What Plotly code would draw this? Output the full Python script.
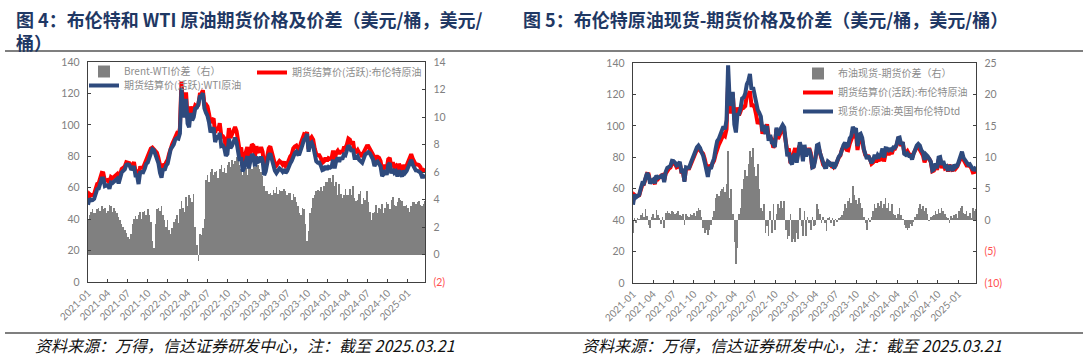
import pandas as pd
import plotly.graph_objects as go

# ---------------- data (weekly, Fridays 2021-01-01 .. 2025-03-21) ----------------
dates = pd.date_range("2021-01-01", "2025-03-21", freq="W-FRI")

brent_futures = [
    # 2021
    51.8, 56.0, 55.1, 55.4, 55.9, 59.3, 62.4, 62.9, 66.1, 69.4, 69.2, 64.5, 64.6,
    64.9, 63.0, 66.8, 66.1, 67.3, 68.3, 68.7, 65.4, 69.6, 71.9, 72.7, 73.5, 76.2,
    76.2, 75.6, 73.6, 74.1, 76.3, 70.7, 70.6, 65.2, 72.7, 72.6, 72.9, 75.3, 78.1,
    79.3, 82.4, 84.9, 85.5, 84.4, 82.7, 82.2, 78.9, 72.7, 69.9, 75.2, 73.5, 76.1, 77.8,
    # 2022
    81.8, 86.1, 87.9, 90.0, 93.3, 94.4, 93.5, 97.9, 127.5, 112.7, 107.9, 120.7,
    104.4, 102.8, 111.7, 106.7, 109.3, 112.4, 111.6, 112.6, 119.4, 119.7, 122.0, 113.1, 113.1,
    111.6, 107.0, 101.2, 103.2, 104.0, 95.0, 98.2, 96.7, 101.0, 93.0, 92.8, 91.4, 86.2, 88.0,
    97.9, 91.6, 93.5, 95.8, 98.6, 96.0, 87.6, 83.6, 85.6, 76.1, 79.0, 83.9, 85.9,
    # 2023
    78.6, 85.3, 87.6, 86.7, 79.9, 86.4, 83.0, 83.2, 85.8, 82.8, 73.0, 75.0, 79.8,
    85.1, 86.3, 81.7, 79.5, 75.3, 74.2, 75.6, 77.0, 76.1, 74.8, 76.6, 73.9, 74.9,
    78.5, 79.9, 81.1, 85.0, 86.2, 86.8, 84.8, 84.5, 88.6, 90.7, 93.9, 93.3, 95.3,
    84.6, 90.9, 92.2, 90.5, 84.9, 81.4, 80.6, 80.6, 78.9, 75.8, 76.6, 79.1, 77.0,
    # 2024
    78.8, 78.3, 78.6, 83.6, 77.3, 82.2, 83.5, 81.6, 83.6, 82.1, 85.3, 85.4, 87.5,
    91.2, 90.5, 87.3, 89.5, 83.0, 82.8, 84.0, 82.1, 81.6, 79.6, 82.6, 85.2, 86.4,
    86.5, 85.0, 82.6, 81.1, 76.8, 79.7, 79.7, 79.0, 76.9, 71.1, 71.6, 74.5, 72.0,
    78.1, 79.0, 73.1, 76.1, 73.1, 73.9, 71.0, 75.2, 72.9, 71.1, 74.5, 72.9, 74.2,
    # 2025
    76.5, 79.8, 81.3, 78.5, 76.8, 74.7, 74.7, 74.4, 73.2, 70.4, 70.6, 72.2,
]

wti_futures = [
    # 2021
    49.2, 53.1, 52.0, 52.1, 52.9, 56.3, 59.1, 59.5, 62.9, 65.9, 65.9, 61.1, 61.6,
    61.7, 59.4, 63.3, 63.0, 63.9, 65.1, 65.7, 62.7, 67.1, 69.7, 70.7, 71.7, 74.6,
    74.9, 74.5, 72.1, 71.9, 73.7, 67.9, 68.0, 62.3, 69.6, 70.0, 69.8, 72.1, 75.2,
    76.0, 79.5, 82.5, 84.5, 83.9, 80.5, 78.9, 75.5, 69.5, 66.4, 72.3, 71.0, 74.1, 75.3,
    # 2022
    80.0, 84.6, 86.0, 87.6, 90.7, 91.5, 91.2, 94.6, 123.6, 109.3, 104.8, 116.5,
    100.9, 98.5, 107.6, 102.9, 104.9, 110.4, 110.9, 113.1, 117.9, 118.3, 120.1, 110.5, 107.7,
    105.8, 101.7, 95.2, 97.0, 98.2, 89.0, 92.1, 91.1, 94.8, 86.5, 86.8, 85.1, 80.3, 81.5,
    91.2, 85.2, 86.6, 89.2, 91.8, 88.9, 80.6, 77.1, 79.4, 70.3, 73.0, 77.6, 80.1,
    # 2023
    72.3, 78.8, 81.4, 80.1, 73.5, 79.8, 76.5, 77.0, 79.8, 77.1, 68.0, 70.4, 75.2,
    80.7, 81.8, 77.4, 74.8, 70.8, 69.3, 71.2, 72.3, 71.5, 70.2, 71.8, 69.3, 70.6,
    74.0, 75.4, 77.1, 80.6, 82.0, 83.0, 81.3, 81.5, 85.7, 87.3, 90.6, 91.1, 94.3,
    82.9, 87.9, 88.8, 86.4, 80.6, 76.8, 75.9, 76.0, 74.0, 71.2, 71.6, 73.8, 71.7,
    # 2024
    73.2, 72.7, 73.3, 77.8, 72.3, 76.9, 79.2, 76.5, 79.2, 78.0, 81.0, 80.6, 83.2,
    86.9, 85.7, 83.0, 84.5, 78.9, 78.9, 80.0, 77.7, 77.0, 75.9, 78.5, 81.2, 81.8,
    82.7, 81.9, 80.1, 78.1, 73.7, 76.1, 76.7, 75.6, 73.6, 67.4, 68.6, 71.1, 68.2,
    74.4, 75.7, 69.1, 71.9, 69.5, 70.4, 67.2, 71.1, 68.9, 67.2, 71.0, 69.4, 70.6,
    # 2025
    73.1, 76.7, 77.8, 74.7, 73.0, 71.0, 70.9, 70.5, 69.6, 66.9, 66.9, 68.3,
]

brent_wti_spread = [
    # 2021
    2.6, 2.9, 3.1, 3.3, 3.0, 3.0, 3.3, 3.4, 3.2, 3.5, 3.3, 3.4, 3.0,
    3.2, 3.6, 3.5, 3.1, 3.4, 3.2, 3.0, 2.7, 2.5, 2.2, 2.0, 1.8, 1.6,
    1.3, 1.1, 1.5, 2.2, 2.6, 2.8, 2.6, 2.9, 3.1, 2.6, 3.1, 3.2, 2.9,
    3.3, 2.9, 2.4, 1.0, 0.5, 2.2, 3.3, 3.4, 3.2, 3.5, 2.9, 2.5, 2.0, 2.5,
    # 2022
    1.8, 1.5, 1.9, 2.4, 2.6, 2.9, 2.3, 3.3, 3.9, 3.4, 3.1, 4.2,
    3.5, 4.3, 4.1, 3.8, 4.4, 2.0, 0.7, -0.5, 1.5, 1.4, 1.9, 2.6, 5.4,
    5.8, 5.3, 6.0, 6.2, 5.8, 6.0, 6.1, 5.6, 6.2, 6.5, 6.0, 6.3, 5.9, 6.5,
    6.7, 6.4, 6.9, 6.6, 6.8, 7.1, 7.0, 6.5, 6.2, 5.8, 6.0, 6.3, 5.8,
    # 2023
    6.3, 6.5, 6.2, 6.6, 6.4, 6.6, 6.5, 6.2, 6.0, 5.7, 5.0, 4.6, 4.6,
    4.4, 4.5, 4.3, 4.7, 4.5, 4.9, 4.4, 4.7, 4.6, 4.6, 4.8, 4.6, 4.3,
    4.5, 4.5, 4.0, 4.4, 4.2, 3.8, 3.5, 3.0, 2.9, 3.4, 3.3, 2.2, 1.0,
    1.7, 3.0, 3.4, 4.1, 4.3, 4.6, 4.7, 4.6, 4.9, 4.6, 5.0, 5.3, 5.3,
    # 2024
    5.6, 5.6, 5.3, 5.8, 5.0, 5.3, 4.3, 5.1, 4.4, 4.1, 4.3, 4.8, 4.3,
    4.3, 4.8, 4.3, 5.0, 4.1, 3.9, 4.0, 4.4, 4.6, 3.7, 4.1, 4.0, 4.6,
    3.8, 3.1, 2.5, 3.0, 3.1, 3.6, 3.0, 3.4, 3.3, 3.7, 3.0, 3.4, 3.8,
    3.7, 3.3, 4.0, 4.2, 3.6, 3.5, 3.8, 4.1, 4.0, 3.9, 3.5, 3.5, 3.6,
    # 2025
    3.4, 3.1, 3.5, 3.8, 3.8, 3.7, 3.8, 3.9, 3.6, 3.5, 3.7, 3.9,
]

dated_brent = [
    # 2021
    49.8, 56.3, 54.6, 55.8, 56.1, 60.1, 63.6, 63.4, 67.9, 70.0, 68.4, 63.3, 65.1,
    65.9, 63.4, 68.4, 66.9, 67.6, 67.7, 69.2, 64.2, 70.8, 73.3, 73.9, 74.5, 77.7,
    77.5, 76.5, 74.8, 75.5, 77.1, 71.3, 71.6, 64.4, 73.6, 73.3, 73.4, 76.3, 78.9,
    80.5, 83.0, 86.3, 87.5, 86.0, 83.2, 81.0, 76.9, 71.1, 67.5, 73.7, 72.7, 76.6, 79.3,
    # 2022
    85.4, 90.3, 91.7, 94.6, 98.3, 99.6, 97.9, 103.7, 138.5, 116.2, 112.9, 121.7,
    100.9, 95.8, 107.2, 107.7, 111.3, 117.4, 118.1, 120.6, 126.4, 128.7, 133.0, 123.1, 124.6,
    120.1, 114.0, 110.2, 108.2, 106.0, 96.5, 100.7, 94.7, 100.0, 90.5, 94.3, 89.4, 88.7, 86.5,
    98.9, 94.1, 95.5, 98.8, 100.6, 99.0, 86.1, 80.6, 83.1, 77.1, 75.5, 80.9, 82.4,
    # 2023
    76.6, 82.3, 89.6, 85.7, 77.4, 87.9, 80.5, 83.7, 85.3, 81.3, 73.5, 74.0, 79.0,
    87.6, 88.1, 82.7, 79.0, 75.8, 73.7, 73.8, 77.4, 76.6, 74.3, 76.9, 72.9, 75.1,
    78.2, 80.3, 81.6, 85.8, 87.7, 89.3, 86.8, 87.5, 92.1, 93.5, 99.4, 97.3, 98.5,
    87.1, 94.4, 95.0, 92.5, 85.4, 80.9, 79.0, 80.9, 78.6, 76.3, 78.1, 81.6, 79.0,
    # 2024
    81.6, 80.5, 81.6, 85.6, 79.8, 85.7, 85.5, 84.4, 85.1, 84.6, 86.3, 86.2, 87.8,
    92.2, 92.5, 88.1, 89.7, 82.2, 81.5, 82.5, 80.9, 81.0, 78.6, 82.3, 85.7, 87.4,
    88.5, 87.5, 84.4, 83.3, 78.3, 81.7, 80.7, 78.8, 77.4, 71.7, 72.4, 76.0, 73.0,
    79.9, 80.2, 75.1, 77.6, 74.1, 74.4, 71.3, 74.8, 73.5, 71.4, 75.3, 73.9, 74.6,
    # 2025
    78.0, 81.8, 83.6, 79.7, 77.8, 76.2, 75.3, 75.6, 73.6, 72.4, 72.1, 74.0,
]

dated_futures_spread = [
    # 2021
    -2.0, 0.3, -0.5, 0.4, 0.2, 0.8, 1.2, 0.5, 1.8, 0.6, -0.8, -1.2, 0.5,
    1.0, 0.4, 1.6, 0.8, 0.3, -0.6, 0.5, -1.2, 1.2, 1.4, 1.2, 1.0, 1.5,
    1.3, 0.9, 1.2, 1.4, 0.8, 0.6, 1.0, -0.8, 0.9, 0.7, 0.5, 1.0, 0.8,
    1.2, 0.6, 1.4, 2.0, 1.6, 0.5, -1.2, -2.0, -1.6, -2.4, -1.5, -0.8, 0.5, 1.5,
    # 2022
    3.6, 4.2, 3.8, 4.6, 5.0, 5.2, 4.4, 5.8, 11.0, 3.5, 5.0, 1.0,
    -3.5, -7.0, -4.5, 1.0, 2.0, 5.0, 6.5, 8.0, 7.0, 9.0, 11.0, 10.0, 11.5,
    8.5, 7.0, 9.0, 5.0, 2.0, 1.5, 2.5, -2.0, -1.0, -2.5, 1.5, -2.0, 2.5, -1.5,
    1.0, 2.5, 2.0, 3.0, 2.0, 3.0, -1.5, -3.0, -2.5, 1.0, -3.5, -3.0, -3.5,
    # 2023
    -2.0, -3.0, 2.0, -1.0, -2.5, 1.5, -2.5, 0.5, -0.5, -1.5, 0.5, -1.0, -0.8,
    2.5, 1.8, 1.0, -0.5, 0.5, -0.5, -1.8, 0.4, 0.5, -0.5, 0.3, -1.0, 0.2,
    -0.3, 0.4, 0.5, 0.8, 1.5, 2.5, 2.0, 3.0, 3.5, 2.8, 5.5, 4.0, 3.2,
    2.5, 3.5, 2.8, 2.0, 0.5, -0.5, -1.6, 0.3, -0.3, 0.5, 1.5, 2.5, 2.0,
    # 2024
    2.8, 2.2, 3.0, 2.0, 2.5, 3.5, 2.0, 2.8, 1.5, 2.5, 1.0, 0.8, 0.3,
    1.0, 2.0, 0.8, 0.2, -0.8, -1.3, -1.5, -1.2, -0.6, -1.0, -0.3, 0.5, 1.0,
    2.0, 2.5, 1.8, 2.2, 1.5, 2.0, 1.0, -0.2, 0.5, 0.6, 0.8, 1.5, 1.0,
    1.8, 1.2, 2.0, 1.5, 1.0, 0.5, 0.3, -0.4, 0.6, 0.3, 0.8, 1.0, 0.4,
    # 2025
    1.5, 2.0, 2.3, 1.2, 1.0, 1.5, 0.6, 1.2, 0.4, 2.0, 1.5, 1.8,
]

for s in (brent_futures, wti_futures, brent_wti_spread, dated_brent, dated_futures_spread):
    assert len(s) == len(dates), (len(s), len(dates))

price_ticks = [0, 20, 40, 60, 80, 100, 120, 140]
left_spread_ticks = [-2, 0, 2, 4, 6, 8, 10, 12, 14]
right_spread_ticks = [-10, -5, 0, 5, 10, 15, 20, 25]

NEG = "#ff5050"


def spread_text(v):
    if v < 0:
        return f'<span style="color:{NEG}">({abs(v)})</span>'
    return str(v)


# ---------------- figure ----------------
W, H = 1088, 358


def px(x):
    return x / W


def py(y):
    return 1 - y / H


GRAY_TXT = "#808080"
AX = "#404040"
tickfont = dict(family="Lato, Liberation Sans, sans-serif", size=10.5, color=GRAY_TXT)
legfont = dict(family="Noto Sans CJK SC, sans-serif", size=10, color="#8c8c8c")
RED = "#ff0000"
BLUE = "#2e4a7d"
BARC = "#808080"

fig = go.Figure()

# left chart
fig.add_trace(go.Bar(x=dates, y=brent_wti_spread, xaxis="x", yaxis="y",
                     marker=dict(color=BARC, line=dict(width=0)),
                     name="Brent-WTI价差（右）", legend="legend"))
fig.add_trace(go.Scatter(x=dates, y=brent_futures, xaxis="x", yaxis="y2", mode="lines",
                         line=dict(color=RED, width=4),
                         name="期货结算价(活跃):布伦特原油", legend="legend2"))
fig.add_trace(go.Scatter(x=dates, y=wti_futures, xaxis="x", yaxis="y2", mode="lines",
                         line=dict(color=BLUE, width=4),
                         name="期货结算价(活跃):WTI原油", legend="legend3"))

# right chart
fig.add_trace(go.Bar(x=dates, y=dated_futures_spread, xaxis="x2", yaxis="y3",
                     marker=dict(color=BARC, line=dict(width=0)),
                     name="布油现货-期货价差（右）", legend="legend4"))
fig.add_trace(go.Scatter(x=dates, y=brent_futures, xaxis="x2", yaxis="y4", mode="lines",
                         line=dict(color=RED, width=4),
                         name="期货结算价(活跃):布伦特原油", legend="legend4"))
fig.add_trace(go.Scatter(x=dates, y=dated_brent, xaxis="x2", yaxis="y4", mode="lines",
                         line=dict(color=BLUE, width=4),
                         name="现货价:原油:英国布伦特Dtd", legend="legend4"))

xcommon = dict(type="date", range=["2021-01-01", "2025-03-21"], tickmode="linear",
               tick0="2021-01-01", dtick="M3", tickformat="%Y-%m", tickangle=-45,
               ticks="inside", ticklen=3, tickcolor=AX, showline=True, mirror=True,
               linecolor=AX, linewidth=1.3, showgrid=False, zeroline=False,
               automargin=False, tickfont=dict(tickfont, size=10))
ycommon = dict(ticks="inside", ticklen=3, tickcolor=AX, showline=True, linecolor=AX,
               linewidth=1.3, showgrid=False, zeroline=False, tickfont=tickfont,
               automargin=False, ticklabelstandoff=5)

L_DOM = [py(282), py(62)]
R_DOM = [py(283), py(63)]

legcommon = dict(xanchor="left", yanchor="top", bgcolor="rgba(0,0,0,0)",
                 font=legfont, itemwidth=30, borderwidth=0, tracegroupgap=0)

fig.update_layout(
    width=W, height=H, margin=dict(l=0, r=0, t=0, b=0, pad=0, autoexpand=False),
    paper_bgcolor="white", plot_bgcolor="white",
    bargap=0, showlegend=True, hovermode=False,
    xaxis=dict(xcommon, domain=[px(88), px(425)], anchor="y"),
    yaxis=dict(ycommon, domain=L_DOM, anchor="x", side="right", range=[-2, 14],
               tickmode="array", tickvals=left_spread_ticks,
               ticktext=[spread_text(v) for v in left_spread_ticks]),
    yaxis2=dict(ycommon, overlaying="y", anchor="x", side="left", range=[0, 140],
                tickmode="array", tickvals=price_ticks),
    xaxis2=dict(xcommon, domain=[px(633), px(976)], anchor="y3"),
    yaxis3=dict(ycommon, domain=R_DOM, anchor="x2", side="right", range=[-10, 25],
                tickmode="array", tickvals=right_spread_ticks,
                ticktext=[spread_text(v) for v in right_spread_ticks]),
    yaxis4=dict(ycommon, overlaying="y3", anchor="x2", side="left", range=[0, 140],
                tickmode="array", tickvals=price_ticks),
    legend=dict(legcommon, x=px(84), y=py(57)),
    legend2=dict(legcommon, x=px(252), y=py(58)),
    legend3=dict(legcommon, x=px(84), y=py(71)),
    legend4=dict(legcommon, x=px(798), y=py(59)),
)

TITLE_COLOR = "#1f3864"
title_font = dict(family="Noto Sans CJK SC, sans-serif", size=18, color=TITLE_COLOR)
src_font = dict(family="Noto Sans CJK SC, Liberation Sans, sans-serif", size=16, color="#111111")

fig.add_annotation(xref="paper", yref="paper", x=px(14), y=py(4), xanchor="left",
                   yanchor="top", align="left", showarrow=False, font=title_font,
                   text="<b>图 4：布伦特和 WTI 原油期货价格及价差（美元/桶，美元/</b><br><b>桶）</b>")
fig.add_annotation(xref="paper", yref="paper", x=px(521), y=py(4), xanchor="left",
                   yanchor="top", align="left", showarrow=False, font=title_font,
                   text="<b>图 5：布伦特原油现货-期货价格及价差（美元/桶，美元/桶）</b>")

for x0 in (33, 580):
    fig.add_annotation(xref="paper", yref="paper", x=px(x0), y=py(345), xanchor="left",
                       yanchor="middle", showarrow=False, font=src_font,
                       text="<i>资料来源：万得，信达证券研发中心，注：截至 2025.03.21</i>")

for yy in (51, 333):
    fig.add_shape(type="line", xref="paper", yref="paper", x0=px(5), x1=px(1083),
                  y0=py(yy), y1=py(yy), line=dict(color="#555555", width=1.6))

fig.write_html("out.html", config={"displayModeBar": False, "staticPlot": True},
               post_script="document.body.style.margin='0px';")
